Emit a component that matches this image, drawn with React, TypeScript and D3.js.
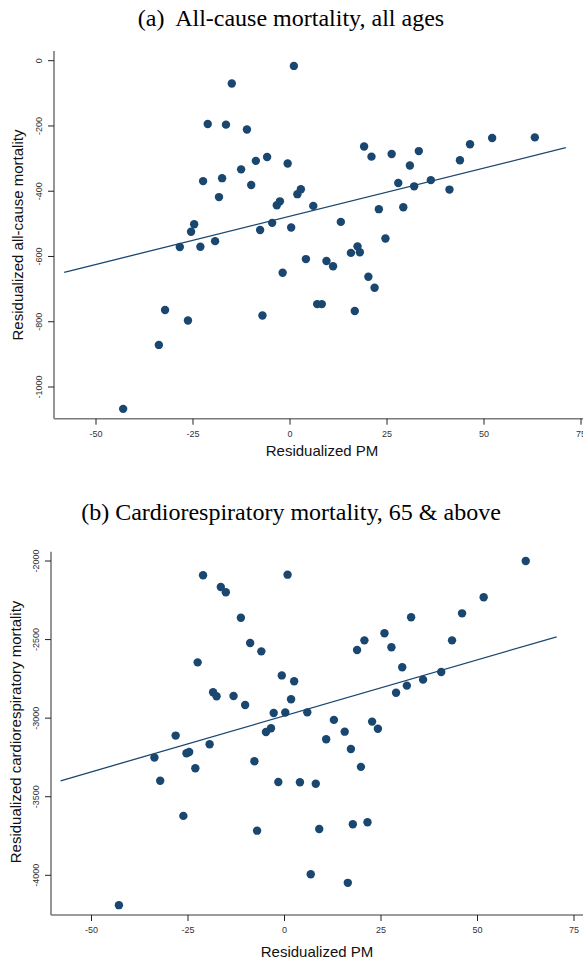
import React from 'react';
import * as d3 from 'd3';

// Panel (a): residualized PM vs residualized all-cause mortality
const pmA = [
  1.0, -15.0, -21.2, -16.5, -11.1, -22.4, -17.5, -12.6, -8.8, -5.9, -0.6, -18.3, -10.0, 1.9, 2.8,
  -24.7, -25.5, -28.4, -23.1, -19.3, -7.7, -4.6, 0.3, -3.4, -2.6, -1.9, -32.2, -26.3, -7.1, -33.8,
  -43.0, 6.0, 13.1, 19.1, 21.0, 26.2, 33.2, 30.9, 27.9, 32.0, 36.3, 41.1, 43.8, 46.4, 52.1,
  63.1, 22.9, 29.2, 24.6, 4.1, 9.4, 11.1, 15.7, 17.4, 18.0, 20.2, 21.8, 7.0, 8.2, 16.7,
];
const mortA = [
  -16, -70, -194, -196, -211, -369, -360, -333, -307, -295, -315, -418, -381, -409, -394,
  -501, -524, -571, -570, -553, -519, -497, -511, -443, -431, -650, -764, -796, -781, -871,
  -1067, -445, -494, -263, -294, -286, -277, -321, -375, -385, -366, -395, -305, -256, -237,
  -235, -455, -449, -545, -608, -614, -630, -589, -569, -587, -662, -696, -746, -746, -767,
];
const fitRangeA = [-58.2, 71.1];
const fitCoefA = [-476.6, 2.954]; // intercept, slope

// Panel (b): residualized PM vs residualized cardiorespiratory mortality, 65+
const pmB = [
  -21.1, -16.5, -15.2, -11.3, -8.9, -6.0, -22.5, -0.7, 0.8, -18.5, -17.6, -13.2, -10.2, -2.8, 0.2,
  1.7, -28.2, -33.7, -32.2, -25.4, -24.7, -23.1, -19.4, -4.8, -3.5, -7.8, -1.6, -26.2, -7.1, -42.9,
  2.5, 5.9, 12.8, 15.6, 10.8, 17.2, 19.8, 22.7, 24.2, 18.8, 20.7, 25.9, 27.7, 32.8, 30.5,
  28.9, 31.7, 35.9, 40.6, 43.4, 46.0, 51.6, 62.5, 4.0, 8.1, 9.0, 17.7, 21.5, 6.8, 16.4,
];
const mortB = [
  -2091, -2165, -2199, -2361, -2522, -2575, -2645, -2728, -2087, -2835, -2861, -2859, -2916, -2967, -2964,
  -2880, -3111, -3251, -3398, -3223, -3215, -3319, -3166, -3088, -3064, -3274, -3406, -3622, -3716, -4190,
  -2765, -2963, -3011, -3086, -3134, -3196, -3310, -3022, -3067, -2566, -2505, -2460, -2549, -2358, -2676,
  -2838, -2793, -2755, -2706, -2505, -2333, -2231, -2000, -3408, -3417, -3705, -3675, -3662, -3993, -4048,
];
const fitRangeB = [-58.0, 70.5];
const fitCoefB = [-2985, 7.13];

const xTicks = [-50, -25, 0, 25, 50, 75];
const yTicksA = [0, -200, -400, -600, -800, -1000];
const yTicksB = [-2000, -2500, -3000, -3500, -4000];

const NAVY = '#1a476f';
const SANS = 'Liberation Sans, Arial, sans-serif';
const SERIF = 'Liberation Serif, Times New Roman, serif';

type PanelProps = {
  title: string;
  titleY: number;
  yLabel: string;
  xs: number[];
  ys: number[];
  fitRange: number[];
  fitCoef: number[];
  yTicks: number[];
  xRange: [number, number];
  yDomain: [number, number];
  yRange: [number, number];
  axisX: number;
  axisY: number;
  axisTop: number;
  yLabelX: number;
  yLabelY: number;
  xLabelY: number;
  xLabelX: number;
};

const Panel = (p: PanelProps) => {
  const x = d3.scaleLinear().domain([-50, 75]).range(p.xRange);
  const y = d3.scaleLinear().domain(p.yDomain).range(p.yRange);
  const fit = d3
    .line<number>()
    .x((d) => x(d))
    .y((d) => y(p.fitCoef[0] + p.fitCoef[1] * d));

  return (
    <g>
      <text x={291} y={p.titleY} textAnchor="middle" fontFamily={SERIF} fontSize={24} fill="#000">
        {p.title}
      </text>

      {/* axes */}
      <line x1={p.axisX} x2={p.axisX} y1={p.axisTop} y2={p.axisY} stroke="#7a7a7a" strokeWidth={1.6} />
      <line x1={p.axisX} x2={590} y1={p.axisY} y2={p.axisY} stroke="#7a7a7a" strokeWidth={1.6} />

      {p.yTicks.map((t) => (
        <g key={t}>
          <line x1={p.axisX - 6} x2={p.axisX} y1={y(t)} y2={y(t)} stroke="#222" strokeWidth={1} />
          <text
            transform={`translate(${p.axisX - 14},${y(t)}) rotate(-90)`}
            textAnchor="middle"
            dominantBaseline="middle"
            fontFamily={SANS}
            fontSize={9}
            fill="#333"
          >
            {t}
          </text>
        </g>
      ))}

      {xTicks.map((t) => (
        <g key={t}>
          <line x1={x(t)} x2={x(t)} y1={p.axisY} y2={p.axisY + 6} stroke="#222" strokeWidth={1} />
          <text
            x={x(t)}
            y={p.axisY + 16}
            textAnchor="middle"
            dominantBaseline="middle"
            fontFamily={SANS}
            fontSize={9}
            fill="#333"
          >
            {t}
          </text>
        </g>
      ))}

      <text
        transform={`translate(${p.yLabelX},${p.yLabelY}) rotate(-90)`}
        textAnchor="middle"
        dominantBaseline="middle"
        fontFamily={SANS}
        fontSize={15}
        fill="#111"
      >
        {p.yLabel}
      </text>
      <text
        x={p.xLabelX}
        y={p.xLabelY}
        textAnchor="middle"
        dominantBaseline="middle"
        fontFamily={SANS}
        fontSize={15}
        fill="#111"
      >
        Residualized PM
      </text>

      {/* points */}
      {p.xs.map((v, i) => (
        <circle key={i} cx={x(v)} cy={y(p.ys[i])} r={4.2} fill={NAVY} />
      ))}

      {/* linear fit */}
      <path d={fit(p.fitRange) || ''} fill="none" stroke={NAVY} strokeWidth={1.3} />
    </g>
  );
};

const App = () => {
  return (
    <svg
      width={583}
      height={960}
      style={{ position: 'absolute', left: 0, top: 0, background: '#fff' }}
    >
      <rect width={583} height={960} fill="#fff" />
      <Panel
        title={'(a)\u00a0 All-cause mortality, all ages'}
        titleY={26}
        yLabel="Residualized all-cause mortality"
        xs={pmA}
        ys={mortA}
        fitRange={fitRangeA}
        fitCoef={fitCoefA}
        yTicks={yTicksA}
        xRange={[96, 581]}
        yDomain={[0, -1000]}
        yRange={[60.7, 387]}
        axisX={54}
        axisY={418.7}
        axisTop={51}
        yLabelX={19}
        yLabelY={235}
        xLabelX={322}
        xLabelY={452}
      />
      <Panel
        title="(b) Cardiorespiratory mortality, 65 & above"
        titleY={520}
        yLabel="Residualized cardiorespiratory mortality"
        xs={pmB}
        ys={mortB}
        fitRange={fitRangeB}
        fitCoef={fitCoefB}
        yTicks={yTicksB}
        xRange={[91.5, 574]}
        yDomain={[-2000, -4000]}
        yRange={[561, 875.3]}
        axisX={51}
        axisY={915}
        axisTop={551.7}
        yLabelX={17.5}
        yLabelY={732}
        xLabelX={317}
        xLabelY={953}
      />
    </svg>
  );
};

export default App;
